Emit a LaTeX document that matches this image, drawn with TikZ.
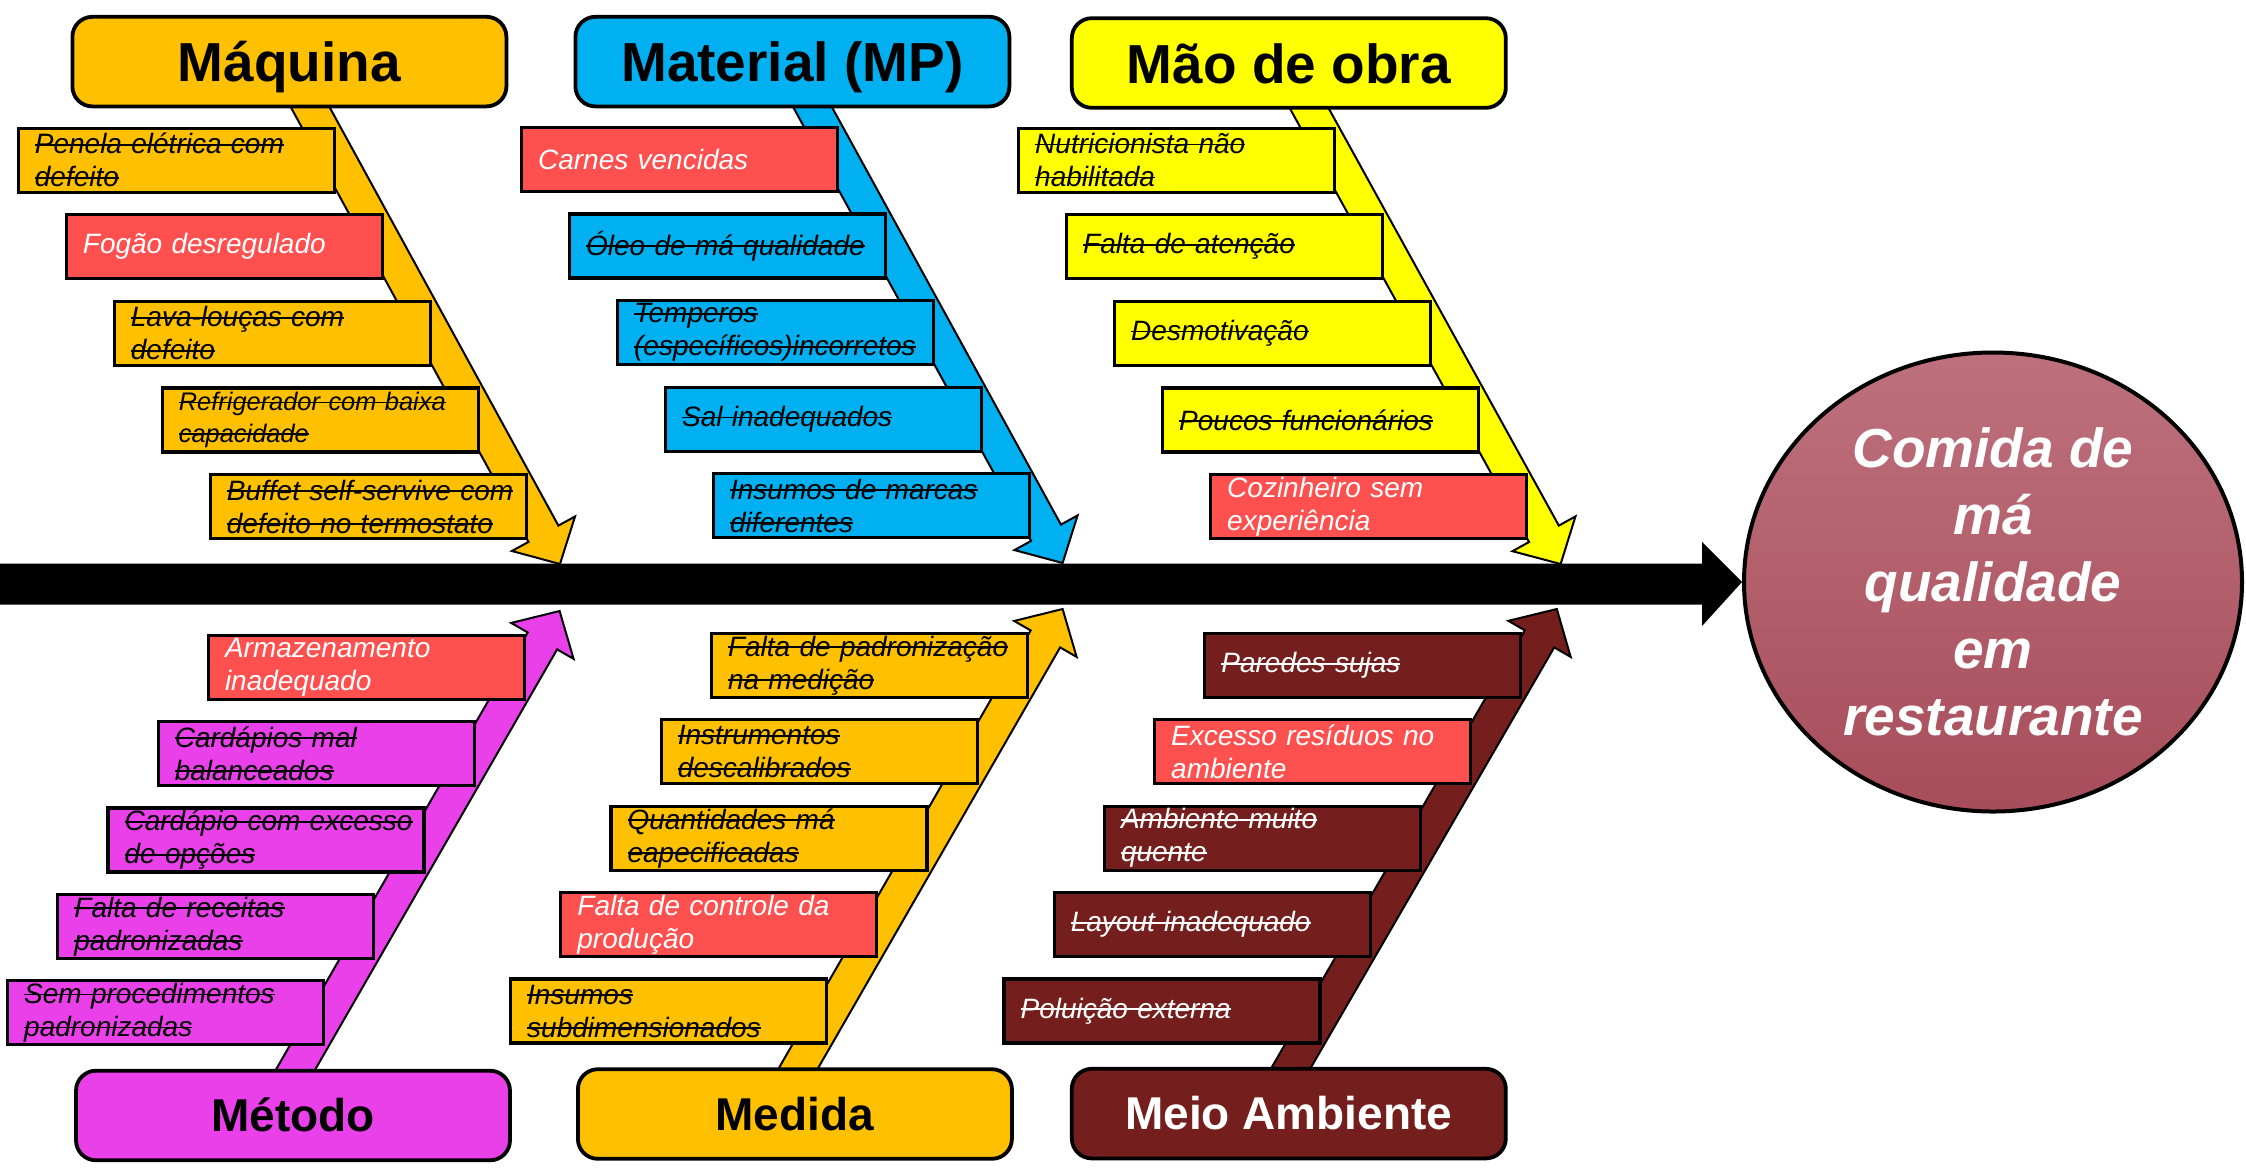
\documentclass[tikz,border=0pt]{standalone}
\usepackage{fontspec}
\setmainfont{Liberation Sans}
\usepackage{tikz}
\usetikzlibrary{calc}
\usetikzlibrary{positioning}
\usetikzlibrary{shapes.geometric}

\definecolor{laranja}{HTML}{FFC000}
\definecolor{azul}{HTML}{00B0F0}
\definecolor{amarelo}{HTML}{FFFF00}
\definecolor{vermelho}{HTML}{FF5050}
\definecolor{rosa}{HTML}{E940EA}
\definecolor{marrom}{HTML}{741F1E}
\definecolor{vinhoA}{HTML}{BD717D}
\definecolor{vinhoB}{HTML}{A84D5A}

\newsavebox{\caixa}
\newcommand{\riscado}[1]{\leavevmode\sbox{\caixa}{#1}\rlap{\rule[0.55ex]{\wd\caixa}{0.9pt}}\usebox{\caixa}}

\pgfdeclarelayer{fundo}
\pgfsetlayers{fundo,main}

\newcommand{\espinha}[3]{%
  \begin{pgfonlayer}{fundo}
    \coordinate (ini) at ($(#2)!1.12!(#1)$);
    \coordinate (cab) at ($(#2)!17.25pt!(#1)$);
    \filldraw[fill=#3, draw=black, line width=1pt]
      ($(ini)!8.5pt!90:(#2)$) -- ($(cab)!8.5pt!90:(#2)$) -- ($(cab)!18pt!90:(#2)$) -- (#2)
      -- ($(cab)!18pt!-90:(#2)$) -- ($(cab)!8.5pt!-90:(#2)$) -- ($(ini)!8.5pt!-90:(#2)$) -- cycle;
  \end{pgfonlayer}}

\tikzset{
  categoria/.style={draw=black, line width=1.9pt, rounded corners=10pt, minimum width=217pt,
    minimum height=44.8pt, inner sep=0pt, text height=20.3pt, text depth=0pt,
    font=\fontsize{27.5}{33}\selectfont\bfseries},
  categoriab/.style={categoria, text height=16pt, font=\fontsize{23}{28}\selectfont\bfseries},
  causa/.style={draw=black, line width=1.6pt, minimum width=158pt, minimum height=32pt,
    inner xsep=8.3pt, inner ysep=0pt, text width=141.4pt, align=left,
    font=\fontsize{14}{16.5}\selectfont\itshape},
  critica/.style={causa, fill=vermelho, text=white}
}

\begin{document}
\begin{tikzpicture}[x=0.5pt, y=-0.5pt]
    \useasboundingbox (0,0) rectangle (2246,1168);

    \node (maq) [categoria, fill=laranja] at (289.4,61.6) {Máquina};
    \node (mat) [categoria, fill=azul] at (792.4,61.6) {Material (MP)};
    \node (mao) [categoria, fill=amarelo] at (1288.8,63) {Mão de obra};
    \node (met) [categoriab, fill=rosa] at (293,1115.5) {Método};
    \node (med) [categoriab, fill=laranja] at (794.9,1114) {Medida};
    \node (mei) [categoriab, fill=marrom, text=white] at (1288.8,1113.6) {Meio Ambiente};

    \node (efeito) [ellipse, draw=black, line width=2pt, top color=vinhoA, bottom color=vinhoB,
        minimum width=249pt, minimum height=229.5pt, inner sep=0pt, align=center, text=white,
        font=\fontsize{27.5}{33.5}\selectfont\bfseries\itshape] at (1993,582)
        {Comida de\\má\\qualidade\\em\\restaurante};

    \coordinate (cauda) at (0,584);
    \fill[black] (cauda) ++(0,-20.5) -- ++(1702,0) -- ++(0,-21.5) -- (efeito.west)
        -- ($(cauda)+(1702,42)$) -- ++(0,-21.5) -- ++(-1702,0) -- cycle;

    \coordinate (maqtip) at (560,564);
    \coordinate (mattip) at (1062.6,563);
    \coordinate (maotip) at (1560.6,564);
    \coordinate (mettip) at (559.6,611);
    \coordinate (medtip) at (1062.6,609);
    \coordinate (meitip) at (1556.8,609);

    \espinha{[xshift=10.7pt]maq.south}{maqtip}{laranja}
    \espinha{[xshift=10.4pt]mat.south}{mattip}{azul}
    \espinha{[xshift=10.6pt]mao.south}{maotip}{amarelo}
    \espinha{[xshift=1.5pt]met.north}{mettip}{rosa}
    \espinha{[xshift=2pt]med.north}{medtip}{laranja}
    \espinha{[xshift=1.4pt]mei.north}{meitip}{marrom}

    \node (m1) [causa, fill=laranja, anchor=north west] at (16.7,126.5) {\riscado{Penela elétrica com}\\\riscado{defeito}};
    \node (m2) [critica, below right=9.7pt and -135.6pt of m1] {Fogão desregulado};
    \node (m3) [causa, fill=laranja, below right=9.7pt and -135.6pt of m2] {\riscado{Lava-louças com}\\\riscado{defeito}};
    \node (m4) [causa, fill=laranja, below right=9.7pt and -135.6pt of m3, font=\fontsize{12.7}{15.7}\selectfont\itshape] {\riscado{Refrigerador com baixa}\\\riscado{capacidade}};
    \node (m5) [causa, fill=laranja, below right=9.7pt and -135.6pt of m4] {\riscado{Buffet self-servive com}\\\riscado{defeito no termostato}};

    \node (p1) [critica, anchor=north west] at (519.9,125.8) {Carnes vencidas};
    \node (p2) [causa, fill=azul, below right=9.7pt and -135.6pt of p1] {\riscado{Óleo de má qualidade}};
    \node (p3) [causa, fill=azul, below right=9.7pt and -135.6pt of p2] {\riscado{Temperos}\\\riscado{(específicos)incorretos}};
    \node (p4) [causa, fill=azul, below right=9.7pt and -135.6pt of p3] {\riscado{Sal inadequados}};
    \node (p5) [causa, fill=azul, below right=9.7pt and -135.6pt of p4] {\riscado{Insumos de marcas}\\\riscado{diferentes}};

    \node (o1) [causa, fill=amarelo, anchor=north west] at (1017,126.5) {\riscado{Nutricionista não}\\\riscado{habilitada}};
    \node (o2) [causa, fill=amarelo, below right=9.7pt and -135.6pt of o1] {\riscado{Falta de atenção}};
    \node (o3) [causa, fill=amarelo, below right=9.7pt and -135.6pt of o2] {\riscado{Desmotivação}};
    \node (o4) [causa, fill=amarelo, below right=9.7pt and -135.6pt of o3] {\riscado{Poucos funcionários}};
    \node (o5) [critica, below right=9.7pt and -135.6pt of o4] {Cozinheiro sem\\experiência};

    \node (t1) [critica, anchor=north east] at (526,633.6) {Armazenamento\\inadequado};
    \node (t2) [causa, fill=rosa, below left=9.6pt and -134.5pt of t1] {\riscado{Cardápios mal}\\\riscado{balanceados}};
    \node (t3) [causa, fill=rosa, below left=9.6pt and -134.5pt of t2] {\riscado{Cardápio com excesso}\\\riscado{de opções}};
    \node (t4) [causa, fill=rosa, below left=9.6pt and -134.5pt of t3] {\riscado{Falta de receitas}\\\riscado{padronizadas}};
    \node (t5) [causa, fill=rosa, below left=9.6pt and -134.5pt of t4] {\riscado{Sem procedimentos}\\\riscado{padronizadas}};

    \node (d1) [causa, fill=laranja, anchor=north east] at (1029,631.8) {\riscado{Falta de padronização}\\\riscado{na medição}};
    \node (d2) [causa, fill=laranja, below left=9.6pt and -134.5pt of d1] {\riscado{Instrumentos}\\\riscado{descalibrados}};
    \node (d3) [causa, fill=laranja, below left=9.6pt and -134.5pt of d2] {\riscado{Quantidades má}\\\riscado{eapecificadas}};
    \node (d4) [critica, below left=9.6pt and -134.5pt of d3] {Falta de controle da\\produção};
    \node (d5) [causa, fill=laranja, below left=9.6pt and -134.5pt of d4] {\riscado{Insumos}\\\riscado{subdimensionados}};

    \node (a1) [causa, fill=marrom, text=white, anchor=north east] at (1522.4,631.8) {\riscado{Paredes sujas}};
    \node (a2) [critica, below left=9.6pt and -134.5pt of a1] {Excesso resíduos no\\ambiente};
    \node (a3) [causa, fill=marrom, text=white, below left=9.6pt and -134.5pt of a2] {\riscado{Ambiente muito}\\\riscado{quente}};
    \node (a4) [causa, fill=marrom, text=white, below left=9.6pt and -134.5pt of a3] {\riscado{Layout inadequado}};
    \node (a5) [causa, fill=marrom, text=white, below left=9.6pt and -134.5pt of a4] {\riscado{Poluição externa}};
\end{tikzpicture}
\end{document}
